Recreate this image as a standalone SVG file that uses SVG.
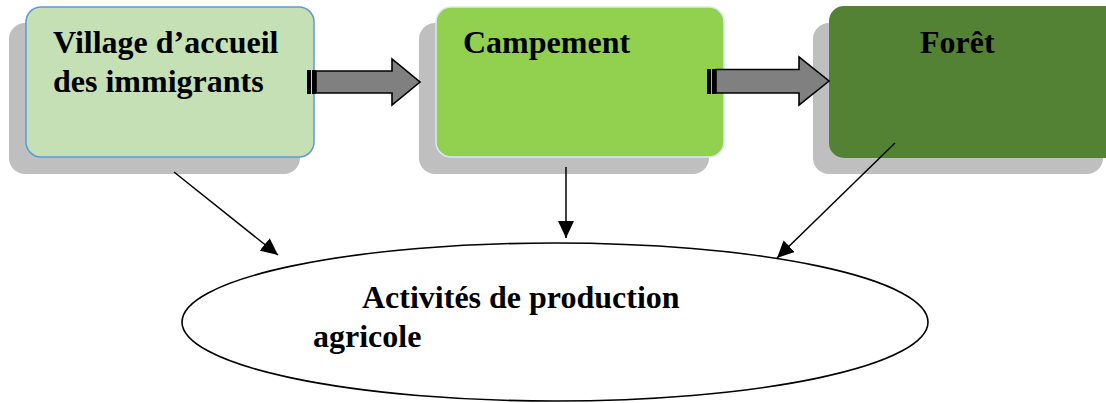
<svg xmlns="http://www.w3.org/2000/svg" width="1106" height="403" viewBox="0 0 1106 403">
  <style>
    .shadow { fill: #bfbfbf; }
    .label { font-family: 'Liberation Serif', serif; font-weight: 700; font-size: 32px; fill: #000; }
    .block { fill: #808080; stroke: #000; stroke-width: 1.6; stroke-linejoin: miter; }
    .tail { fill: #000; }
    .link { stroke: #000; stroke-width: 1.5; fill: none; marker-end: url(#head); }
  </style>
  <defs>
    <marker id="head" viewBox="0 0 17 16" refX="17" refY="8" markerWidth="17" markerHeight="16" markerUnits="userSpaceOnUse" orient="auto">
      <path d="M0,0 L17,8 L0,16 Z" fill="#000"/>
    </marker>
  </defs>

  <rect width="1106" height="403" fill="#fff"/>

  <!-- Village d'accueil des immigrants -->
  <g id="village">
    <rect class="shadow" x="9" y="23" width="291" height="151" rx="16"/>
    <rect x="26" y="7" width="288" height="150" rx="15" fill="#c5e0b4" stroke="#5b9bd5" stroke-width="1.5"/>
    <text class="label" x="53" y="53">Village d’accueil</text>
    <text class="label" x="53" y="92">des immigrants</text>
  </g>

  <!-- Campement -->
  <g id="campement">
    <rect class="shadow" x="419" y="23" width="290" height="151" rx="16"/>
    <rect x="436" y="7" width="288" height="150" rx="15" fill="#92d050" stroke="#dae8f5" stroke-width="1.5"/>
    <text class="label" x="463" y="53">Campement</text>
  </g>

  <!-- Forêt -->
  <g id="foret">
    <rect class="shadow" x="813" y="23" width="290" height="151" rx="16"/>
    <rect x="829" y="6" width="300" height="152" rx="15" fill="#548235"/>
    <text class="label" x="920" y="53">Forêt</text>
  </g>

  <!-- Activités de production agricole -->
  <g id="activites">
    <ellipse cx="555" cy="322" rx="373" ry="79" fill="#fff" stroke="#000" stroke-width="1.6"/>
    <text class="label" x="362" y="308">Activités de production</text>
    <text class="label" x="313" y="347">agricole</text>
  </g>

  <!-- connectors -->
  <g id="connectors">
    <!-- striped block arrow: village to campement -->
    <g id="flow-village-campement">
      <rect class="tail" x="307" y="70" width="4" height="24"/>
      <rect class="tail" x="312" y="70" width="4" height="24"/>
      <path class="block" d="M316,71 L392,71 L392,59 L420,82 L392,105 L392,93 L316,93 Z"/>
    </g>
    <!-- striped block arrow: campement to forêt -->
    <g id="flow-campement-foret">
      <rect class="tail" x="707" y="69" width="4" height="25"/>
      <rect class="tail" x="712" y="69" width="4" height="25"/>
      <path class="block" d="M716,69.5 L799,69.5 L799,57 L829,81 L799,105 L799,93 L716,93 Z"/>
    </g>
    <line class="link" x1="174" y1="172" x2="278" y2="255"/>
    <line class="link" x1="566" y1="167" x2="566" y2="238"/>
    <line class="link" x1="895" y1="143" x2="777" y2="258"/>
  </g>
</svg>
